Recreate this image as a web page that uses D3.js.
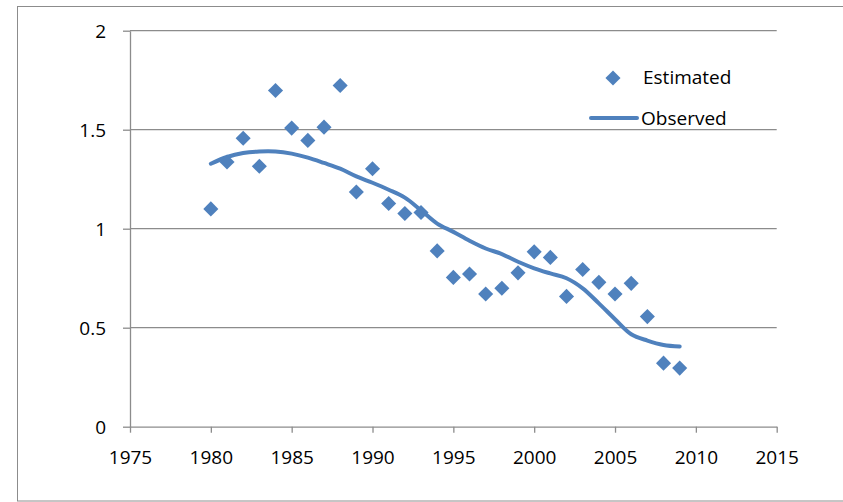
<!DOCTYPE html>
<html><head><meta charset="utf-8">
<script src="https://cdn.jsdelivr.net/npm/d3@7"></script>
<style>body{margin:0;background:#fff}svg{display:block}text{font-family:"Open Sans",sans-serif;font-size:19px;fill:#000}</style>
</head><body><svg id="c" width="843" height="502"></svg>
<script>
const years = d3.range(1980, 2010);
const estimated = [1.10,1.337,1.457,1.315,1.698,1.508,1.446,1.513,1.723,1.185,1.303,1.127,1.077,1.082,0.888,0.754,0.771,0.670,0.699,0.777,0.883,0.855,0.658,0.794,0.729,0.670,0.724,0.556,0.321,0.296];
const observed = [1.328,1.362,1.382,1.39,1.39,1.379,1.359,1.332,1.303,1.264,1.232,1.197,1.157,1.093,1.026,0.984,0.939,0.90,0.872,0.833,0.80,0.774,0.750,0.699,0.623,0.543,0.467,0.435,0.413,0.405];
const xTicks = [1975,1980,1985,1990,1995,2000,2005,2010,2015];
const yTicks = [0,0.5,1,1.5,2];
const seriesNames = ["Estimated","Observed"];

const svg = d3.select("#c");
const color = "#4F81BD";
const x = d3.scaleLinear().domain([1975,2015]).range([130,776.7]);
const y = d3.scaleLinear().domain([0,2]).range([426.7,30.7]);

svg.append("rect").attr("x",17.5).attr("y",6.5).attr("width",900).attr("height",494.5)
  .attr("fill","none").attr("stroke","#8c8c8c").attr("stroke-width",1);

// gridlines
svg.append("g").selectAll("line").data(yTicks.filter(d=>d>0)).join("line")
  .attr("x1",x(1975)).attr("x2",x(2015)).attr("y1",d=>y(d)).attr("y2",d=>y(d))
  .attr("stroke","#8c8c8c").attr("stroke-width",1.3);

// y axis
const ya = svg.append("g").attr("transform",`translate(${x(1975)},0)`)
  .call(d3.axisLeft(y).tickValues(yTicks).tickSize(7).tickSizeOuter(0).tickPadding(17).tickFormat(d3.format("")));
// x axis
const xa = svg.append("g").attr("transform",`translate(0,${y(0)})`)
  .call(d3.axisBottom(x).tickValues(xTicks).tickSize(6).tickSizeOuter(0).tickPadding(18).tickFormat(d3.format("d")));
[ya,xa].forEach(a=>{
  a.select(".domain").attr("stroke","#8c8c8c").attr("stroke-width",1.3);
  a.selectAll(".tick line").attr("stroke","#8c8c8c").attr("stroke-width",1.3);
  a.selectAll("text").attr("font-family",'"Open Sans",sans-serif').attr("font-size",20).attr("fill","#000");
});
ya.selectAll(".tick text").attr("dy","0.35em");

// observed line
const line = d3.line().x((d,i)=>x(years[i])).y(d=>y(d)).curve(d3.curveCatmullRom.alpha(0.5));
svg.append("path").datum(observed).attr("d",line).attr("fill","none")
  .attr("stroke",color).attr("stroke-width",4).attr("stroke-linecap","round");

// estimated diamonds
const diamond = d3.symbol().type(d3.symbolDiamond2).size(145);
svg.append("g").selectAll("path").data(estimated).join("path")
  .attr("d",diamond).attr("transform",(d,i)=>`translate(${x(years[i])},${y(d)})`)
  .attr("fill",color);

// legend
const lg = svg.append("g");
lg.append("path").attr("d",diamond).attr("transform","translate(613,78)").attr("fill",color);
lg.append("text").attr("x",643).attr("y",84).text(seriesNames[0]);
lg.append("line").attr("x1",591).attr("x2",637).attr("y1",118).attr("y2",118)
  .attr("stroke",color).attr("stroke-width",4).attr("stroke-linecap","round");
lg.append("text").attr("x",641).attr("y",125).text(seriesNames[1]);
</script></body></html>
